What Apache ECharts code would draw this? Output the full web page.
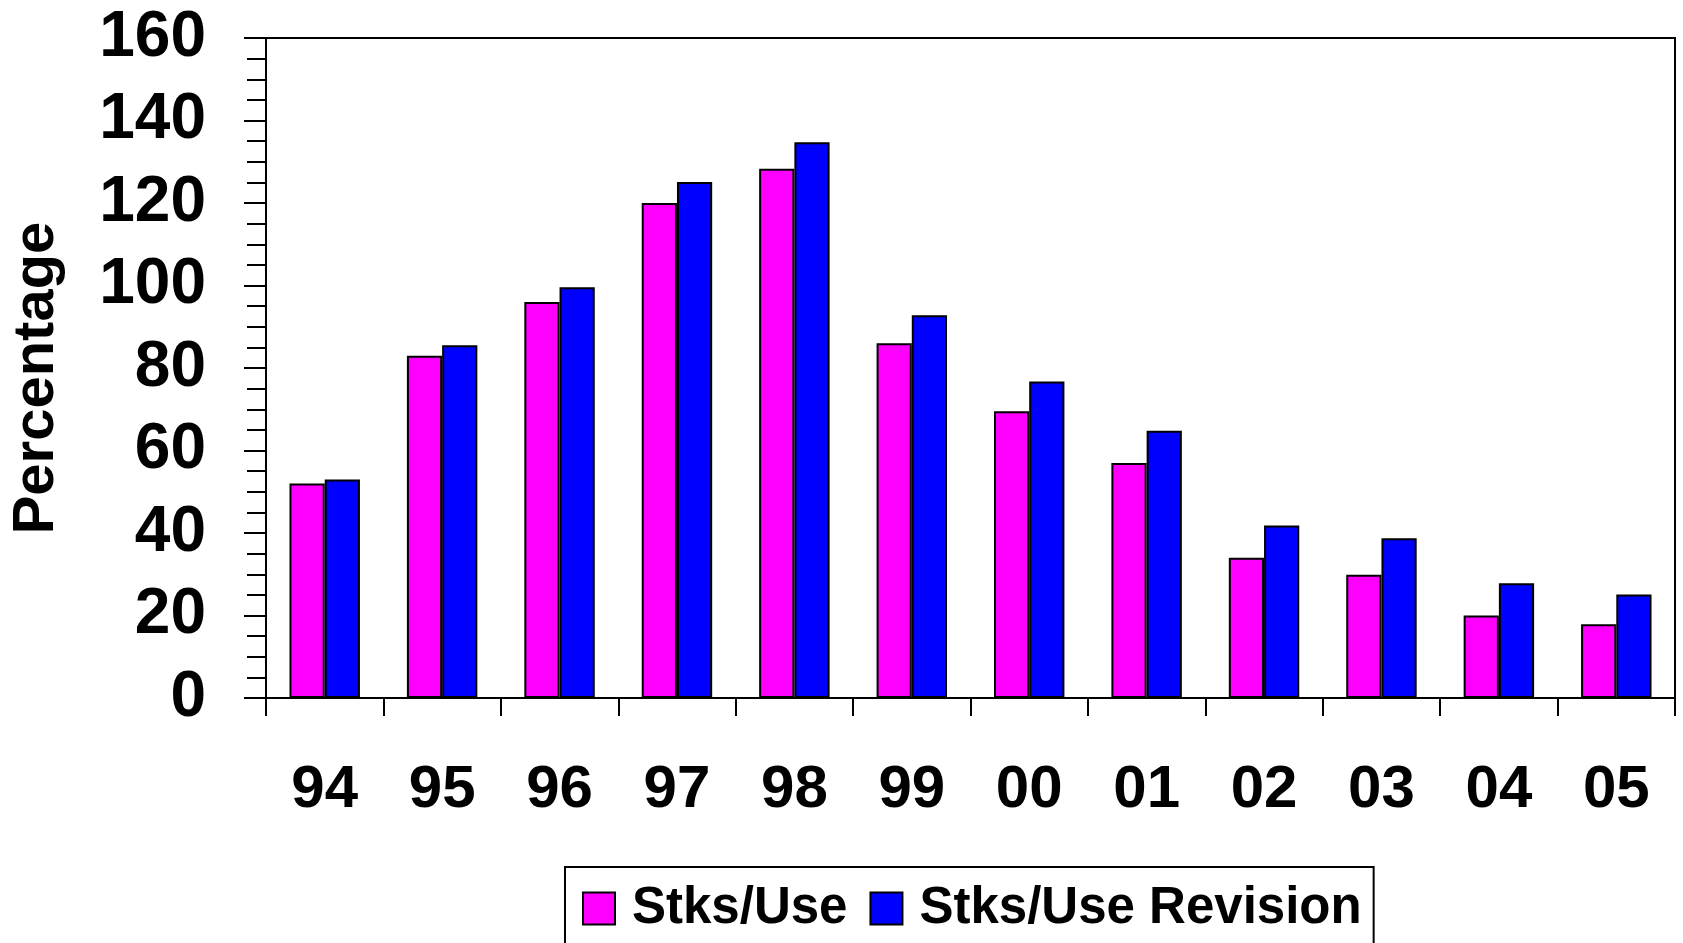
<!DOCTYPE html>
<html>
<head>
<meta charset="utf-8">
<script src="https://cdn.jsdelivr.net/npm/echarts@6/dist/echarts.min.js"></script>
<style>html,body{margin:0;padding:0;background:#fff;}#c{width:1683px;height:943px;}</style>
</head>
<body>
<div id="c"></div>
<script>
const categories = ['94','95','96','97','98','99','00','01','02','03','04','05'];
const stksUse = [52, 83, 96, 120, 128.3, 86, 69.5, 57, 34, 29.9, 20, 17.9];
const stksUseRevision = [53, 85.5, 99.6, 125.1, 134.7, 92.8, 76.7, 64.8, 41.8, 38.7, 27.8, 25.1];
const seriesNames = ['Stks/Use', 'Stks/Use Revision'];
const yTicks = [0, 20, 40, 60, 80, 100, 120, 140, 160];

const FONT = '"Liberation Sans", Arial, sans-serif';
const chart = echarts.init(document.getElementById('c'));
chart.setOption({
  animation: false,
  backgroundColor: '#fff',
  grid: {
    left: 266, right: 8, top: 38, bottom: 245,
    containLabel: false, outerBoundsMode: 'none',
    show: true, borderColor: '#000', borderWidth: 2, backgroundColor: 'transparent'
  },
  legend: {
    data: seriesNames,
    left: 565, top: 867,
    padding: [16, 12, 30, 17],
    borderColor: '#000', borderWidth: 2,
    itemWidth: 32, itemHeight: 32, itemGap: 22,
    icon: 'rect',
    itemStyle: { borderColor: '#000', borderWidth: 2 },
    textStyle: { fontFamily: FONT, fontWeight: 'bold', fontSize: 51, color: '#000', padding: [0, 0, 0, 12] }
  },
  xAxis: {
    type: 'category',
    data: categories,
    axisLine: { lineStyle: { color: '#000', width: 2 } },
    axisTick: { show: true, length: 18, lineStyle: { color: '#000', width: 2 } },
    axisLabel: { margin: 62, fontFamily: FONT, fontWeight: 'bold', fontSize: 60, color: '#000' }
  },
  yAxis: {
    type: 'value',
    min: 0, max: 160, interval: 20,
    name: 'Percentage',
    nameLocation: 'middle',
    nameGap: 200,
    nameTextStyle: { fontFamily: FONT, fontWeight: 'bold', fontSize: 58, color: '#000', padding: [0, 20, 0, 0] },
    axisLine: { show: true, lineStyle: { color: '#000', width: 2 } },
    axisTick: { show: true, length: 22, lineStyle: { color: '#000', width: 2 } },
    minorTick: { show: true, splitNumber: 4, length: 19, lineStyle: { color: '#000', width: 2 } },
    splitLine: { show: false },
    axisLabel: {
      margin: 60, fontFamily: FONT, fontWeight: 'bold', fontSize: 64, color: '#000',
      formatter: v => yTicks.includes(v) ? String(v) : ''
    }
  },
  series: [
    {
      name: seriesNames[0], type: 'bar', data: stksUse,
      barGap: '0%', barCategoryGap: '40%',
      itemStyle: { color: '#ff00ff', borderColor: '#000', borderWidth: 2 }
    },
    {
      name: seriesNames[1], type: 'bar', data: stksUseRevision,
      barGap: '0%', barCategoryGap: '40%',
      itemStyle: { color: '#0000ff', borderColor: '#000', borderWidth: 2 }
    }
  ]
});
</script>
</body>
</html>
